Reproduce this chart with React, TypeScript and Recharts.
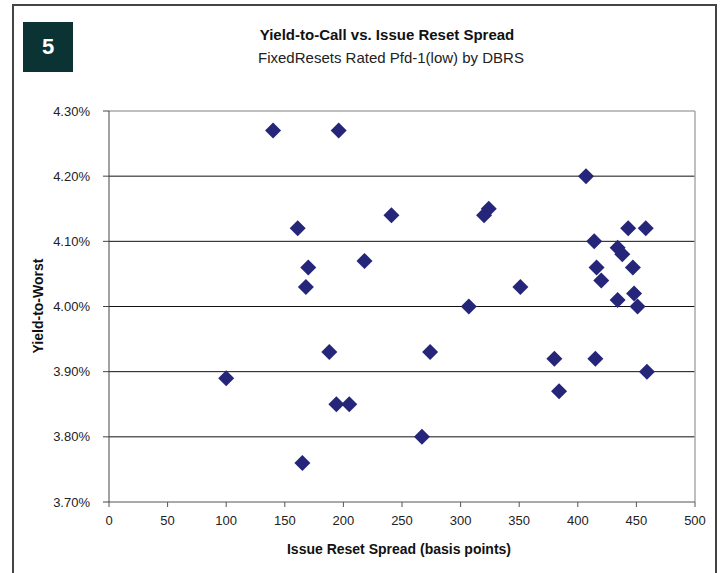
import { ScatterChart, Scatter, XAxis, YAxis, CartesianGrid, ReferenceLine } from 'recharts';

const spread = [
  100, 140, 196, 161, 170, 168, 218, 241, 188, 194, 205, 165, 267, 274, 307, 320, 324, 351,
  380, 384, 407, 414, 416, 420, 415, 434, 438, 434, 443, 447, 448, 451, 458, 459,
];
const ytw = [
  3.89, 4.27, 4.27, 4.12, 4.06, 4.03, 4.07, 4.14, 3.93, 3.85, 3.85, 3.76, 3.8, 3.93, 4.0, 4.14, 4.15, 4.03,
  3.92, 3.87, 4.2, 4.1, 4.06, 4.04, 3.92, 4.09, 4.08, 4.01, 4.12, 4.06, 4.02, 4.0, 4.12, 3.9,
];
const xTicks = [0, 50, 100, 150, 200, 250, 300, 350, 400, 450, 500];
const yTicks = [3.7, 3.8, 3.9, 4.0, 4.1, 4.2, 4.3];
const gridLines = [3.8, 3.9, 4.0, 4.1, 4.2];

const data = spread.map((s, i) => ({ spread: s, ytw: ytw[i] }));

const FONT = '"Liberation Sans", Arial, sans-serif';

function Diamond(props: any) {
  const { cx, cy } = props;
  const r = 8;
  return (
    <path
      d={`M${cx},${cy - r}L${cx + r},${cy}L${cx},${cy + r}L${cx - r},${cy}Z`}
      fill="#25257a"
    />
  );
}

export default function App() {
  return (
    <div
      style={{
        position: 'absolute',
        left: 0,
        top: 0,
        width: 725,
        height: 573,
        overflow: 'hidden',
        background: '#fff',
        fontFamily: FONT,
      }}
    >
      <div
        style={{
          position: 'absolute',
          left: 12,
          top: 4,
          width: 705,
          height: 600,
          border: '2px solid #444',
          boxSizing: 'border-box',
        }}
      />
      <div
        style={{
          position: 'absolute',
          left: 23,
          top: 22,
          width: 50,
          height: 50,
          background: '#0b3333',
          color: '#fff',
          fontWeight: 'bold',
          fontSize: 22,
          display: 'flex',
          alignItems: 'center',
          justifyContent: 'center',
        }}
      >
        5
      </div>
      <div
        style={{
          position: 'absolute',
          left: 187,
          width: 400,
          top: 26,
          textAlign: 'center',
          fontWeight: 'bold',
          fontSize: 15,
          color: '#111',
        }}
      >
        Yield-to-Call vs. Issue Reset Spread
      </div>
      <div
        style={{
          position: 'absolute',
          left: 191,
          width: 400,
          top: 49,
          textAlign: 'center',
          fontSize: 15,
          color: '#222',
        }}
      >
        FixedResets Rated Pfd-1(low) by DBRS
      </div>
      <div
        style={{
          position: 'absolute',
          left: 38,
          top: 306,
          transform: 'translate(-50%, -50%) rotate(-90deg)',
          fontWeight: 'bold',
          fontSize: 14,
          whiteSpace: 'nowrap',
          color: '#111',
        }}
      >
        Yield-to-Worst
      </div>
      <div
        style={{
          position: 'absolute',
          left: 199,
          width: 400,
          top: 541,
          textAlign: 'center',
          fontWeight: 'bold',
          fontSize: 14,
          color: '#111',
        }}
      >
        Issue Reset Spread (basis points)
      </div>
      <div style={{ position: 'absolute', left: 0, top: 0 }}>
        <ScatterChart width={725} height={573} margin={{ top: 111, right: 30, bottom: 41, left: 9 }}>
          <CartesianGrid horizontal vertical={false} horizontalValues={gridLines} stroke="#111" />
          <XAxis
            type="number"
            dataKey="spread"
            domain={[0, 500]}
            ticks={xTicks}
            height={30}
            tickSize={5}
            tickMargin={9}
            stroke="#555"
            tick={{ fill: '#222', fontSize: 13, fontFamily: FONT }}
            interval={0}
          />
          <YAxis
            type="number"
            dataKey="ytw"
            domain={[3.7, 4.3]}
            ticks={yTicks}
            width={100}
            tickSize={6}
            tickMargin={13}
            stroke="#444"
            tickFormatter={(v: number) => `${v.toFixed(2)}%`}
            tick={{ fill: '#222', fontSize: 13, fontFamily: FONT }}
            interval={0}
          />
          <ReferenceLine y={4.3} stroke="#aaa" strokeWidth={1.5} />
          <ReferenceLine x={500} stroke="#aaa" strokeWidth={1.5} />
          <Scatter data={data} shape={<Diamond />} isAnimationActive={false} />
        </ScatterChart>
      </div>
    </div>
  );
}
